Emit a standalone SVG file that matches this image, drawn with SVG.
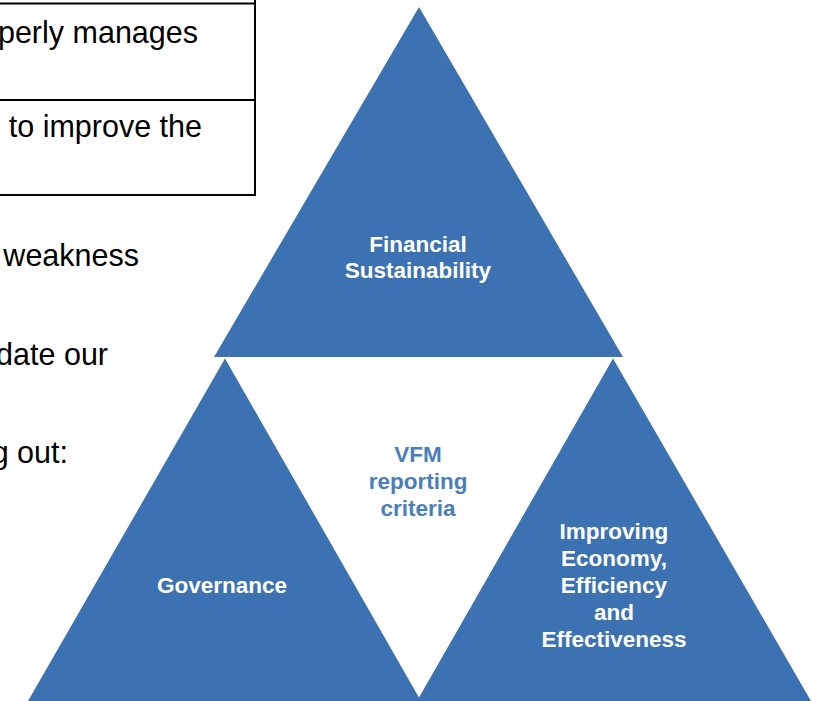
<svg xmlns="http://www.w3.org/2000/svg" width="823" height="701" viewBox="0 0 823 701">
<style>
.doc{font-family:"Liberation Sans",Arial,sans-serif;font-size:30.5px;fill:#000;text-anchor:end}
.rule{stroke:#000;stroke-width:2;fill:none}
.tri{fill:#3C72B2}
.lbl{font-family:"Liberation Sans",Arial,sans-serif;font-size:22.5px;font-weight:bold;fill:#fff;text-anchor:middle}
.ctr{font-family:"Liberation Sans",Arial,sans-serif;font-size:22.5px;font-weight:bold;fill:#4A7EBB;text-anchor:middle}
</style>
<rect width="823" height="701" fill="#fff"/>
<g id="document-text">
<line class="rule" x1="0" y1="3.5" x2="256" y2="3.5"/>
<line class="rule" x1="0" y1="100" x2="256" y2="100"/>
<line class="rule" x1="0" y1="195" x2="256" y2="195"/>
<line class="rule" x1="255" y1="0" x2="255" y2="196"/>
<text class="doc" x="198" y="43">perly manages</text>
<text class="doc" x="202" y="137">to improve the</text>
<text class="doc" x="139" y="266">weakness</text>
<text class="doc" x="108" y="365">date our</text>
<text class="doc" x="68" y="463">g out:</text>
</g>
<g id="financial-sustainability">
<polygon class="tri" points="419,7 214,357 623,357"/>
<text class="lbl" x="418" y="252">Financial</text>
<text class="lbl" x="418" y="278">Sustainability</text>
</g>
<g id="governance">
<polygon class="tri" points="225,358.5 28,701 421,701"/>
<text class="lbl" x="222" y="593">Governance</text>
</g>
<g id="improving-eee">
<polygon class="tri" points="613,358.5 417,701 811,701"/>
<text class="lbl" x="614" y="539">Improving</text>
<text class="lbl" x="614" y="566">Economy,</text>
<text class="lbl" x="614" y="593">Efficiency</text>
<text class="lbl" x="614" y="620">and</text>
<text class="lbl" x="614" y="647">Effectiveness</text>
</g>
<g id="vfm-reporting-criteria">
<text class="ctr" x="418" y="462">VFM</text>
<text class="ctr" x="418" y="489">reporting</text>
<text class="ctr" x="418" y="516">criteria</text>
</g>
<g id="connectors"/>
</svg>
